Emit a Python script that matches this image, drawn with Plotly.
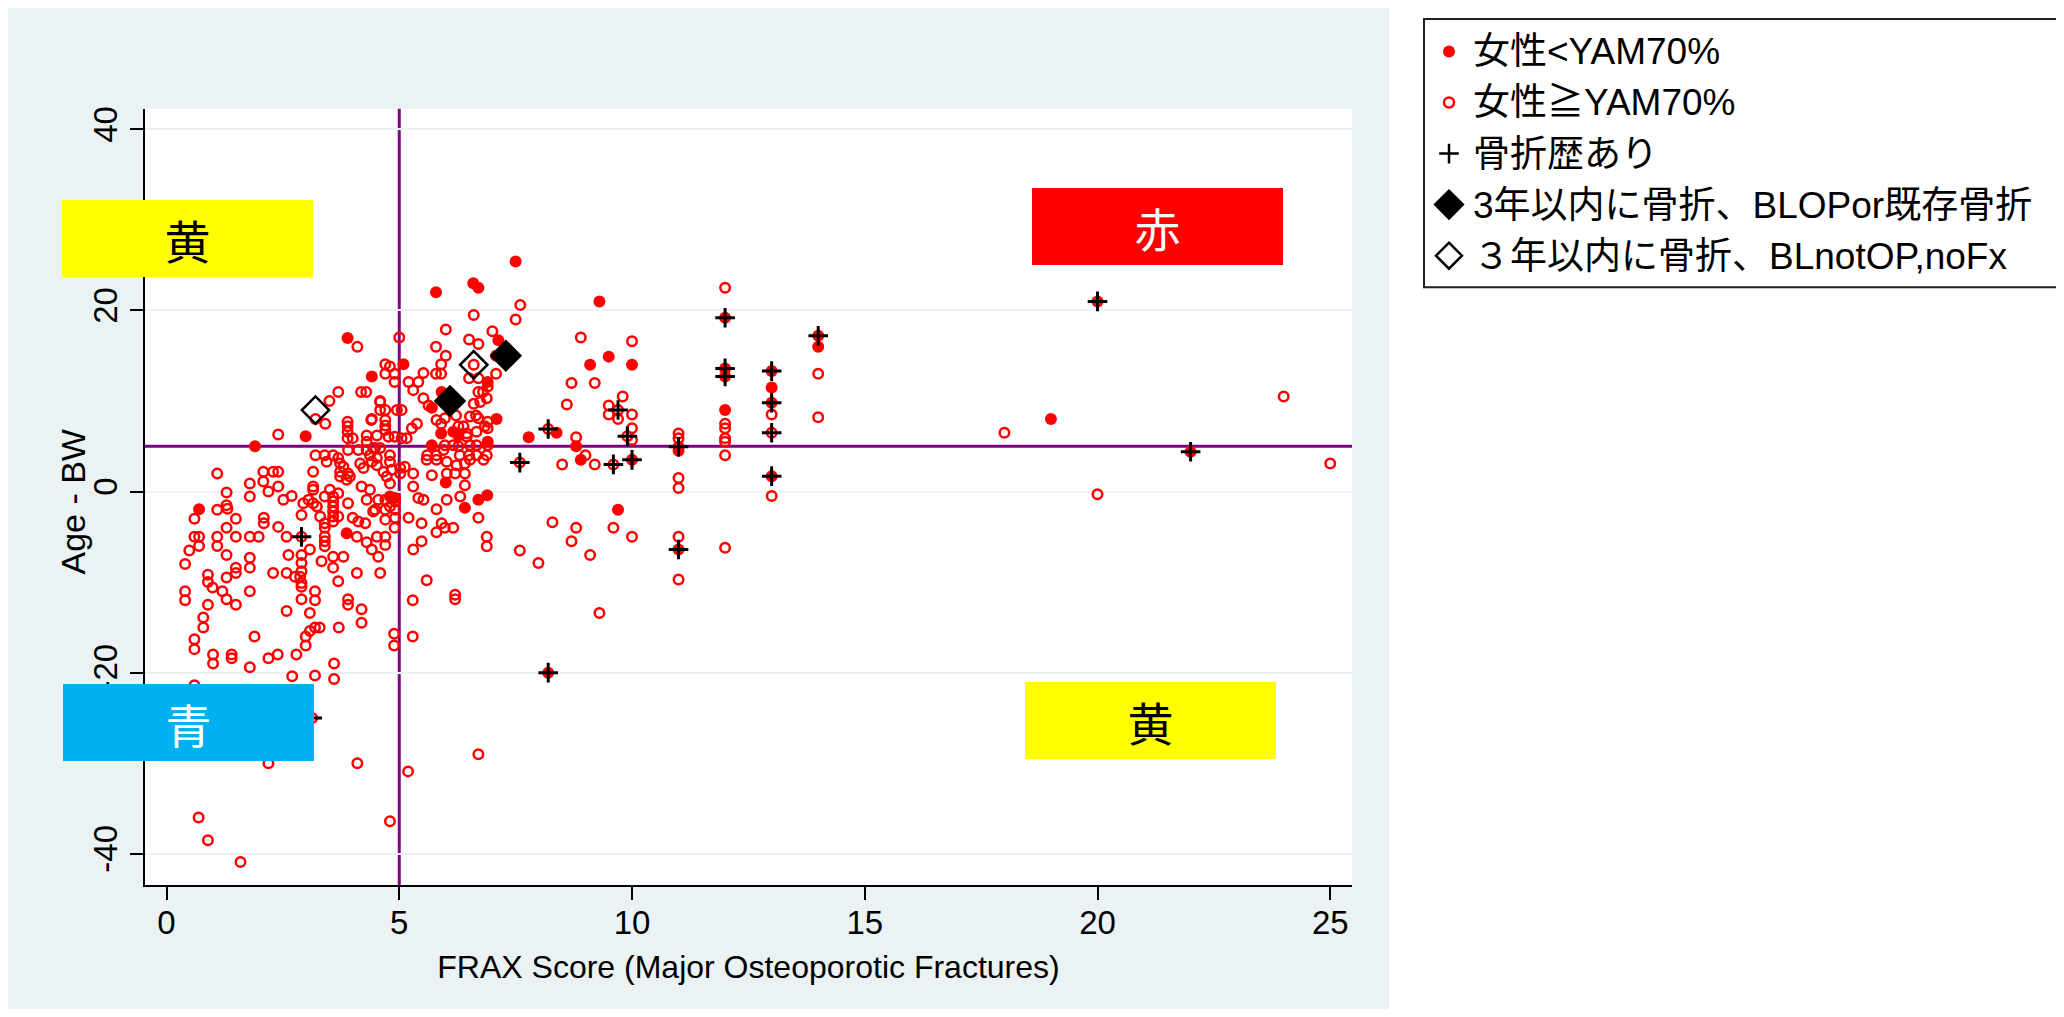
import plotly.graph_objects as go

# ---------------- data ----------------
# 女性<YAM70%  (filled red circles)
filled_x = [1.9, 0.70, 3.89, 4.41, 2.99, 5.09, 5.7, 5.9, 5.7, 6.16, 6.27, 6.9, 7.08, 6.9, 7.13, 5.91, 7.09,
            5.79, 6.59, 6.70, 7.50, 7.78, 8.38, 8.8, 8.9, 9.1, 3.87, 6.0, 6.41, 6.7, 6.89, 4.91, 4.8,
            9.3, 9.5, 10.0, 9.7, 11.0, 12.0, 13.0, 14.0, 19.0,
            8.2, 10.0, 11.0, 11.0, 12.0, 12.0, 12.0, 13.0, 13.0, 13.0, 14.0, 20.0, 22.0]
filled_y = [5.0, -1.95, 16.95, 12.7, 6.1, 14.05, 9.25, 6.4, 5.1, 6.6, 6.2, 12.1, 15.0, 5.5, 16.7, 11.0, 8.0,
            22.0, 23.0, 22.5, 25.4, 6.0, 6.5, 5.0, 3.5, 14.0, -4.6, 1.0, -1.8, -0.9, -0.4, -0.7, -0.55,
            21.0, 14.9, 14.0, -2.0, 4.5, 9.0, 11.5, 16.0, 8.0,
            -20.0, 3.5, 4.95, -6.4, 19.2, 13.6, 12.7, 13.3, 9.8, 1.7, 17.2, 21.0, 4.4]

# 女性≧YAM70%  (open red circles)
open_pts = [
    # x < 1.8
    (1.09, 2.0), (1.79, 0.9), (1.79, -0.55), (1.29, -0.1), (1.29, -1.5), (1.31, -1.9), (0.6, -3.0),
    (1.09, -2.0), (1.49, -3.0), (1.29, -4.0), (0.6, -5.0), (0.7, -5.0), (0.7, -6.0), (1.09, -5.0),
    (1.09, -6.0), (1.49, -5.0), (1.79, -5.0), (0.49, -6.5), (0.4, -8.0), (1.29, -7.0), (1.79, -7.3),
    (1.79, -8.4), (1.49, -8.4), (1.49, -9.0), (0.89, -9.2), (0.89, -10.0), (0.99, -10.6), (1.2, -11.0),
    (1.29, -9.5), (1.29, -11.9), (1.49, -12.5), (0.4, -11.0), (0.4, -12.0), (0.89, -12.5), (0.79, -13.9),
    (0.79, -15.0), (1.79, -11.0), (0.6, -16.3), (0.6, -17.4), (1.79, -19.4), (1.40, -18.0), (1.40, -18.4),
    (1.0, -18.0), (1.0, -19.0), (0.6, -21.4), (0.69, -36.0), (0.89, -38.5), (1.59, -40.9), (1.89, -16.0),
    # upper middle
    (4.10, 16.0), (3.69, 11.0), (3.50, 10.0), (4.18, 11.0), (4.29, 11.0), (3.41, 7.5), (3.2, 8.0),
    (4.41, 8.0), (3.89, 7.7), (3.89, 7.2), (3.89, 6.6), (3.89, 5.9), (4.0, 5.9), (4.3, 6.2), (4.3, 5.5),
    (4.59, 9.9), (2.40, 6.3), (3.2, 4.0), (3.4, 4.0), (3.58, 4.0), (3.69, 3.7), (3.9, 4.6), (4.12, 4.6),
    (4.3, 4.6), (4.44, 4.8),
    (6.6, 19.5), (6.0, 17.9), (5.0, 17.0), (7.0, 17.7), (6.5, 16.8), (6.7, 16.3), (5.79, 16.0), (6.0, 15.0),
    (5.9, 14.05), (5.9, 13.0), (5.79, 13.0), (6.6, 14.0), (4.7, 14.05), (4.8, 13.8), (4.7, 13.0), (4.9, 13.0),
    (4.9, 12.1), (5.2, 12.1), (5.41, 12.1), (5.3, 11.2), (5.52, 13.1), (5.52, 10.3), (5.63, 9.5), (4.59, 10.0),
    (4.59, 9.0), (4.7, 9.0), (4.7, 7.9), (4.7, 7.3), (4.7, 6.8), (4.95, 9.0), (5.05, 9.0), (4.4, 7.9),
    (5.8, 7.9), (5.9, 7.5), (5.98, 8.1), (5.38, 7.5), (5.27, 7.0), (5.16, 5.9), (5.05, 5.9), (4.9, 6.05),
    (4.77, 6.05), (4.52, 6.2), (4.48, 4.8), (4.59, 4.8), (4.8, 4.0), (4.8, 3.3), (5.6, 4.0), (5.8, 4.0),
    (6.27, 7.2), (6.38, 7.2), (6.45, 6.4), (6.45, 6.05), (6.22, 8.4), (6.52, 8.3), (6.65, 8.4), (6.6, 9.7),
    (6.74, 9.9), (6.88, 10.3), (6.7, 11.0), (6.8, 11.0), (6.9, 11.6), (6.5, 12.5), (6.7, 12.5), (7.08, 13.0),
    (6.7, 8.1), (6.9, 7.7), (6.9, 7.0), (6.66, 6.6), (6.84, 7.2), (6.16, 5.1), (6.27, 5.0), (6.52, 5.1),
    (6.66, 5.1), (6.3, 4.0), (6.5, 4.0), (6.66, 4.0), (6.88, 4.0), (6.9, 5.1), (5.98, 5.1), (5.95, 4.6),
    (4.37, 4.0), (4.52, 3.7),
    (7.6, 20.6), (7.5, 19.0), (7.59, -6.5), (7.99, -7.9), (8.29, -3.4), (7.59, 3.2), (8.2, 6.9),
    # lower middle
    (2.08, 2.2), (2.08, 1.1), (2.29, 2.2), (2.4, 2.2), (2.4, 0.55), (2.19, 0.0), (2.51, -0.9), (2.69, -0.5),
    (2.09, -2.9), (2.09, -3.5), (2.4, -3.9), (1.98, -5.0), (2.58, -5.0), (2.9, -5.0), (2.9, -2.6),
    (2.94, -1.3), (3.05, -0.9), (3.15, -1.3), (3.23, -1.65), (3.15, 2.2), (3.15, 0.55), (3.15, 0.2),
    (3.44, 3.3), (3.3, -2.75), (3.4, -3.5), (3.4, -4.0), (3.4, -4.95), (3.4, -5.5), (3.4, -6.05),
    (3.58, -0.55), (3.58, -1.1), (3.58, -1.65), (3.58, -2.2), (3.58, -2.75), (3.58, -3.3), (3.69, -0.2),
    (3.69, -2.75), (3.4, -0.55), (3.51, 0.2), (3.73, 3.1), (3.73, 2.2), (3.73, 1.65), (3.8, 2.75), (3.9, 2.0),
    (3.94, 1.65), (3.87, 1.3), (4.16, 3.1), (4.23, 2.6), (4.41, 3.3), (4.52, 2.9), (4.19, 0.55), (4.37, 0.2),
    (4.3, -0.9), (4.48, -2.0), (3.9, -1.3), (4.0, -2.9), (4.12, -3.3), (4.27, -3.5), (4.09, -5.0), (4.3, -5.6),
    (4.41, -6.4), (4.52, -5.0), (4.55, -7.2), (4.44, -2.2), (4.55, -0.9), (3.08, -6.4), (2.9, -7.0),
    (2.9, -7.9), (2.9, -8.8), (2.87, -9.4), (2.9, -10.1), (2.9, -10.5), (2.62, -7.0), (2.29, -9.0),
    (2.58, -9.0), (2.76, -9.4), (3.33, -7.7), (3.58, -7.2), (3.8, -7.2), (3.58, -8.4), (3.69, -9.9),
    (4.09, -9.0), (3.19, -11.0), (3.19, -12.0), (2.9, -11.9), (3.9, -11.9), (3.9, -12.5), (4.19, -13.0),
    (2.58, -13.2), (3.08, -13.4),
    (4.66, 2.2), (4.73, 1.65), (4.84, 2.4), (5.02, 2.6), (5.12, 2.75), (5.3, 2.0), (5.02, 2.0), (4.7, -0.9),
    (4.8, 0.9), (5.3, 0.55), (5.41, -0.7), (5.52, -0.9), (5.7, 1.8), (5.59, 3.5), (5.8, 3.5), (6.02, 3.3),
    (6.23, 2.9), (6.41, 3.1), (6.52, 3.5), (6.81, 3.5), (6.02, 2.0), (6.2, 2.0), (6.41, 2.0), (6.41, 0.7),
    (6.31, -0.55), (6.02, -0.9), (5.8, -1.95), (6.7, -2.9), (6.16, -4.0), (5.98, -4.0), (5.91, -3.5),
    (5.8, -4.5), (5.48, -3.5), (5.2, -2.9), (5.48, -5.5), (5.3, -6.4), (6.88, -5.0), (6.88, -6.05),
    (4.7, -3.1), (4.7, -5.0), (4.7, -5.9), (4.91, -1.1), (4.91, -2.0), (4.91, -2.9), (4.9, -4.0),
    (4.8, -1.65), (4.7, -2.0), (4.59, -9.0), (5.59, -9.8), (5.29, -12.0), (6.2, -11.4), (6.2, -11.9),
    # bottom part
    (2.99, -16.0), (2.99, -17.0), (3.29, -15.0), (3.19, -15.0), (3.08, -15.4), (3.7, -15.0), (2.79, -18.0),
    (2.39, -18.0), (2.19, -18.4), (4.19, -14.5), (2.70, -20.4), (3.19, -20.3), (3.6, -19.0), (3.6, -20.7),
    (4.89, -15.7), (4.89, -17.0), (5.29, -16.0), (2.19, -30.0), (4.1, -30.0), (5.19, -30.9), (6.7, -29.0),
    (4.8, -36.4), (3.13, -25.0),
    # right part
    (8.9, 17.0), (10.0, 16.6), (8.7, 12.0), (9.2, 12.0), (8.6, 9.6), (9.8, 10.5), (9.5, 9.5), (9.5, 8.5),
    (9.7, 9.0), (9.7, 8.0), (10.0, 8.5), (10.0, 7.0), (9.9, 6.1), (10.0, 5.7), (8.8, 6.0), (9.0, 4.0),
    (9.2, 3.0), (8.5, 3.0), (9.6, 3.0), (8.8, -4.0), (8.7, -5.5), (9.1, -7.0), (9.6, -4.0), (10.0, -5.0),
    (9.3, -13.4),
    (11.0, 6.4), (11.0, 5.9), (11.0, 1.5), (11.0, 0.4), (11.0, -5.0), (11.0, -9.7),
    (12.0, 22.5), (12.0, 7.5), (12.0, 7.0), (12.0, 5.9), (12.0, 5.5), (12.0, 4.0), (12.0, -6.2),
    (13.0, 8.5), (13.0, 6.5), (13.0, -0.5), (14.0, 13.0), (14.0, 8.2),
    (18.0, 6.5), (20.0, -0.3), (24.0, 10.5), (25.0, 3.1),
]
open_x = [p[0] for p in open_pts]
open_y = [p[1] for p in open_pts]

# 骨折歴あり (black plus)
fx_hist_x = [2.9, 3.13, 8.2, 7.59, 8.2, 9.7, 9.9, 9.6, 10.0, 11.0, 11.0, 12.0, 12.0, 12.0,
             13.0, 13.0, 13.0, 13.0, 14.0, 20.0, 22.0]
fx_hist_y = [-5.0, -25.0, 6.9, 3.2, -20.0, 9.0, 6.1, 3.0, 3.5, 4.95, -6.4, 19.2, 13.6, 12.7,
             13.3, 9.8, 6.5, 1.7, 17.2, 21.0, 4.4]

# 3年以内に骨折、BLOPor既存骨折 (filled diamond)
dia_f_x = [7.29, 6.09]
dia_f_y = [15.0, 10.0]
# ３年以内に骨折、BLnotOP,noFx (open diamond)
dia_o_x = [6.6, 3.2]
dia_o_y = [14.0, 9.0]

legend_labels = ["女性<YAM70%", "女性≧YAM70%", "骨折歴あり",
                 "3年以内に骨折、BLOPor既存骨折", "３年以内に骨折、BLnotOP,noFx"]

x_ticks = [0, 5, 10, 15, 20, 25]
y_ticks = [-40, -20, 0, 20, 40]
y_tick_text = ["-40", "-20", "0", "20", "40"]
x_title = "FRAX Score (Major Osteoporotic Fractures)"
y_title = "Age - BW"
frax_cut = 5
agebw_cut = 5

quad_labels = ["黄", "赤", "青", "黄"]

# ---------------- layout helpers (pixel geometry) ----------------
W, H = 2048, 1001
OFF = 8  # body margin of the html page


def px(sx):
    return (sx - OFF) / W


def py(sy):
    return 1 - (sy - OFF) / H


RED = "#FF0000"
PURPLE = "#800080"
BG = "#EAF2F3"
LAT = "Liberation Sans, Arial, sans-serif"
JP = "Noto Sans CJK JP, Noto Sans CJK SC, sans-serif"

fig = go.Figure()

main_styles = [
    dict(symbol="circle", size=12, color=RED, line=dict(width=0)),
    dict(symbol="circle-open", size=9.5, color=RED, line=dict(width=2.5, color=RED)),
    dict(symbol="cross-thin-open", size=14, color="black", line=dict(width=3, color="black")),
    dict(symbol="diamond", size=25, color="black", line=dict(width=0)),
    dict(symbol="diamond-open", size=21, color="black", line=dict(width=2.5, color="black")),
]
series = [(filled_x, filled_y), (open_x, open_y), (fx_hist_x, fx_hist_y),
          (dia_f_x, dia_f_y), (dia_o_x, dia_o_y)]
for (sx, sy), st, name in zip(series, main_styles, legend_labels):
    fig.add_trace(go.Scatter(x=sx, y=sy, mode="markers", marker=st, name=name,
                             showlegend=False, hoverinfo="skip"))

# legend key drawn on a small auxiliary axis pair
legend_styles = [
    dict(symbol="circle", size=12, color=RED, line=dict(width=0)),
    dict(symbol="circle-open", size=10, color=RED, line=dict(width=2.5, color=RED)),
    dict(symbol="cross-thin-open", size=14, color="black", line=dict(width=2.5, color="black")),
    dict(symbol="diamond", size=24, color="black", line=dict(width=0)),
    dict(symbol="diamond-open", size=20, color="black", line=dict(width=2.5, color="black")),
]
for lab, st in zip(legend_labels, legend_styles):
    fig.add_trace(go.Scatter(x=[0], y=[lab], mode="markers", marker=st, xaxis="x2", yaxis="y2",
                             showlegend=False, hoverinfo="skip"))

plot_l, plot_r, plot_t, plot_b = 145, 1352, 106, 885
x0v = 166.5
xu = 46.55
y0v = 490
yu = 9.083
xr = [(plot_l - x0v) / xu, (plot_r - x0v) / xu]
yr = [(y0v - plot_b) / yu, (y0v - plot_t) / yu]

fig.update_layout(
    width=W, height=H, margin=dict(l=0, r=0, t=0, b=0),
    paper_bgcolor=BG, plot_bgcolor="white", showlegend=False,
    xaxis=dict(domain=[px(plot_l), px(plot_r)], range=xr, tickvals=x_ticks,
               ticks="outside", ticklen=13, tickwidth=2, tickcolor="black",
               showline=True, linecolor="black", linewidth=2, showgrid=False, zeroline=False,
               ticklabelstandoff=-6,
               tickfont=dict(family=LAT, size=33, color="black"),
               title=dict(text=x_title, font=dict(family=LAT, size=32, color="black"), standoff=16),
               anchor="y"),
    yaxis=dict(domain=[py(plot_b), py(plot_t)], range=yr, tickvals=y_ticks, ticktext=y_tick_text,
               tickangle=-90, ticks="outside", ticklen=13, tickwidth=2, tickcolor="black",
               showline=True, linecolor="black", linewidth=2, showgrid=True, gridcolor=BG,
               gridwidth=2, zeroline=False,
               tickfont=dict(family=LAT, size=33, color="black"),
               anchor="x"),
    xaxis2=dict(domain=[px(1426), px(1472)], range=[-1, 1], visible=False, fixedrange=True),
    yaxis2=dict(domain=[py(279), py(23)], type="category", categoryarray=legend_labels,
                range=[4.5, -0.5], anchor="x2", side="right", showline=False, showgrid=False,
                zeroline=False, ticks="", ticklabelstandoff=0,
                tickfont=dict(family="Liberation Sans, Noto Sans CJK JP, sans-serif", size=37, color="black")),
)

# y-axis title placed as rotated text
fig.add_annotation(xref="paper", yref="paper", x=px(73), y=py(501), xanchor="center", yanchor="middle",
                   text=y_title, textangle=-90, showarrow=False,
                   font=dict(family=LAT, size=34, color="black"))

shapes = [
    # white page area to the right of the graph region
    dict(type="rect", xref="paper", yref="paper", x0=px(1389), x1=1.02, y0=-0.02, y1=1.02,
         fillcolor="white", line=dict(width=0), layer="below"),
    # legend frame
    dict(type="rect", xref="paper", yref="paper", x0=px(1424), x1=1.05, y0=py(285), y1=py(16),
         fillcolor="white", line=dict(width=2, color="#222222"), layer="below"),
    # threshold lines
    dict(type="line", xref="x", yref="y domain", x0=frax_cut, x1=frax_cut, y0=0, y1=1,
         line=dict(color=PURPLE, width=3), layer="below"),
    dict(type="line", xref="x domain", yref="y", x0=0, x1=1, y0=agebw_cut, y1=agebw_cut,
         line=dict(color=PURPLE, width=3), layer="below"),
]
fig.update_layout(shapes=shapes)

# quadrant boxes (centre px, colours)
boxes = [
    (187.5, 236.5, "#FFFF00", "black"),
    (1157.5, 224.0, "#FF0000", "white"),
    (188.0, 722.0, "#00B0F0", "white"),
    (1150.0, 720.0, "#FFFF00", "black"),
]
for lab, (cx, cy, bg, fc) in zip(quad_labels, boxes):
    fig.add_annotation(xref="paper", yref="paper", x=px(cx), y=py(cy), xanchor="center", yanchor="middle",
                       text=lab, showarrow=False, width=251, height=77, bgcolor=bg, borderpad=0,
                       borderwidth=0, font=dict(family=JP, size=46, color=fc))

fig.write_html("out.html", config={"displayModeBar": False})
